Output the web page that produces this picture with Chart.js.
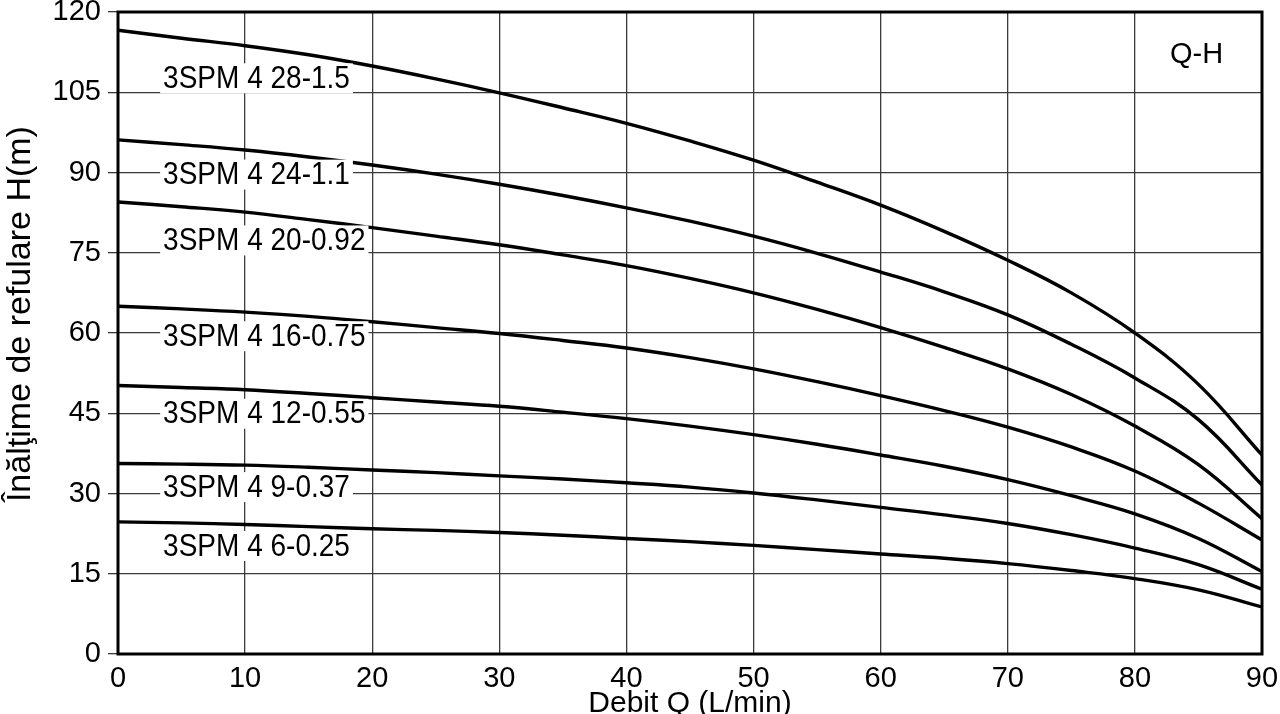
<!DOCTYPE html>
<html>
<head>
<meta charset="utf-8">
<script src="https://cdn.jsdelivr.net/npm/chart.js@4"></script>
<style>
	html, body { margin: 0; padding: 0; background: #fff; }
	#wrap { width: 1280px; height: 714px; }
</style>
</head>
<body>
<div id="wrap"><canvas id="chart"></canvas></div>
<script>
// debit Q (L/min) sampled along every curve
const flow = [0, 5, 10, 15, 20, 25, 30, 35, 40, 45, 50, 55, 60, 65, 70, 75, 80, 85, 90];

// head H (m) for each pump
const pump28 = [116.6, 115.1, 113.7, 112.0, 109.9, 107.5, 104.9, 102.1, 99.2, 95.9, 92.3, 88.2, 83.9, 79.0, 73.6, 67.5, 60.0, 50.4, 37.2];
const pump24 = [96.1, 95.2, 94.2, 92.9, 91.4, 89.7, 87.8, 85.7, 83.4, 80.9, 78.1, 74.9, 71.4, 67.7, 63.4, 57.9, 51.6, 43.8, 31.6];
const pump20 = [84.5, 83.6, 82.6, 81.2, 79.7, 78.1, 76.5, 74.6, 72.6, 70.2, 67.5, 64.4, 61.0, 57.3, 53.3, 48.5, 42.6, 35.4, 25.3];
const pump16 = [65.0, 64.5, 63.9, 63.1, 62.1, 61.0, 59.9, 58.6, 57.2, 55.4, 53.3, 50.9, 48.3, 45.5, 42.4, 38.7, 34.2, 28.2, 21.3];
const pump12 = [50.2, 49.8, 49.4, 48.7, 47.9, 47.1, 46.3, 45.2, 44.0, 42.6, 41.0, 39.2, 37.2, 35.1, 32.6, 29.6, 26.2, 21.6, 15.4];
const pump9 = [35.6, 35.5, 35.3, 34.9, 34.4, 33.9, 33.3, 32.7, 32.0, 31.2, 30.1, 28.8, 27.4, 26.0, 24.4, 22.3, 19.8, 16.7, 12.1];
const pump6 = [24.7, 24.5, 24.2, 23.8, 23.4, 23.1, 22.7, 22.2, 21.6, 21.0, 20.3, 19.5, 18.7, 17.9, 16.9, 15.6, 14.1, 12.0, 8.8];

const pumpNames = ['3SPM 4 28-1.5', '3SPM 4 24-1.1', '3SPM 4 20-0.92', '3SPM 4 16-0.75',
	'3SPM 4 12-0.55', '3SPM 4 9-0.37', '3SPM 4 6-0.25'];
const pumpHeads = [pump28, pump24, pump20, pump16, pump12, pump9, pump6];

// where each name sits (Q, H)
const nameQ = 3.55;
const nameH = [107.6, 89.6, 77.3, 59.4, 44.9, 31.2, 20.2];

const FONT = '"Liberation Sans", Arial, sans-serif';

const datasets = pumpNames.map(function (name, i) {
	return {
		label: name,
		data: flow.map(function (q, j) { return { x: q, y: pumpHeads[i][j] }; }),
		borderColor: '#000',
		borderWidth: 3.4,
		pointRadius: 0,
		fill: false,
		tension: 0.4
	};
});

// frame, curve names and the Q-H tag
const decorations = {
	id: 'decorations',
	afterDatasetsDraw(chart) {
		const ctx = chart.ctx;
		const a = chart.chartArea;
		const xs = chart.scales.x, ys = chart.scales.y;
		ctx.save();
		ctx.font = '28px ' + FONT;
		ctx.textBaseline = 'middle';
		ctx.textAlign = 'left';
		pumpNames.forEach(function (name, i) {
			const x = xs.getPixelForValue(nameQ);
			const y = ys.getPixelForValue(nameH[i]);
			const w = ctx.measureText(name).width;
			ctx.fillStyle = '#fff';
			ctx.fillRect(x - 3, y - 15, w + 6, 30);
			ctx.save();
			ctx.translate(x, y + 1);
			ctx.scale(1, 1.12);
			ctx.fillStyle = '#000';
			ctx.fillText(name, 0, 0);
			ctx.restore();
		});
		ctx.font = '29px ' + FONT;
		ctx.fillStyle = '#000';
		ctx.fillText('Q-H', a.right - 92, a.top + 43);
		ctx.strokeStyle = '#000';
		ctx.lineWidth = 3;
		ctx.strokeRect(a.left, a.top, a.right - a.left, a.bottom - a.top);
		ctx.restore();
	}
};

new Chart(document.getElementById('chart'), {
	type: 'line',
	data: { datasets: datasets },
	options: {
		responsive: true,
		maintainAspectRatio: false,
		animation: false,
		layout: { padding: { top: 12, right: 18, left: 0, bottom: 0 } },
		plugins: {
			legend: { display: false },
			tooltip: { enabled: false }
		},
		scales: {
			x: {
				type: 'linear',
				min: 0,
				max: 90,
				ticks: { stepSize: 10, color: '#000', padding: 8, maxRotation: 0, font: { family: FONT, size: 29 } },
				grid: { color: '#3a3a3a', lineWidth: 1.3, drawTicks: false },
				border: { display: false },
				title: {
					display: true,
					text: 'Debit Q (L/min)',
					color: '#000',
					padding: { top: 0, bottom: -8 },
					font: { family: FONT, size: 30 }
				},
				afterFit(scale) {
					scale.height = 60;
					scale.paddingLeft = 0;
					scale.paddingRight = 0;
				}
			},
			y: {
				min: 0,
				max: 120,
				ticks: { stepSize: 15, color: '#000', padding: 7, font: { family: FONT, size: 29 } },
				grid: { color: '#3a3a3a', lineWidth: 1.3, tickLength: 10 },
				border: { display: false },
				title: {
					display: true,
					text: '    Înălţime de refulare H(m)',
					color: '#000',
					padding: { top: 0, bottom: 0 },
					font: { family: FONT, size: 34 }
				},
				afterFit(scale) {
					scale.width = 118;
					scale.paddingTop = 0;
					scale.paddingBottom = 0;
				}
			}
		}
	},
	plugins: [decorations]
});
</script>
</body>
</html>
